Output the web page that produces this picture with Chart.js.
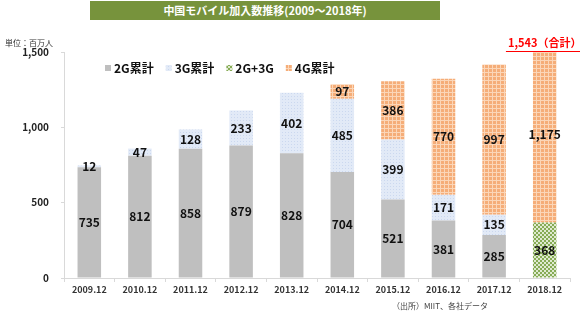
<!DOCTYPE html>
<html><head><meta charset="utf-8">
<script src="https://cdn.jsdelivr.net/npm/chart.js@4.4.1/dist/chart.umd.min.js"></script>
<style>
html,body{margin:0;padding:0;background:#fff;}
#wrap{position:relative;width:580px;height:325px;overflow:hidden;}
#title{position:absolute;left:90px;top:1px;width:350px;height:19px;background:#77933c;color:#fff;font:bold 11px "Noto Sans CJK JP";text-align:center;line-height:19px;}
#unit{position:absolute;left:5px;top:37px;font:8px "Noto Sans CJK JP";color:#333;}
#src{position:absolute;left:392px;top:300px;font:8px "Noto Sans CJK JP";color:#444;}
canvas{position:absolute;left:0;top:0;}
</style></head><body>
<div id="wrap">
<canvas id="c" width="580" height="325"></canvas>
<div id="title">中国モバイル加入数推移(2009～2018年)</div>
<div id="unit">単位：百万人</div>
<div id="src">（出所）MIIT、各社データ</div>
</div>
<script>
const categories = ['2009.12','2010.12','2011.12','2012.12','2013.12','2014.12','2015.12','2016.12','2017.12','2018.12'];
const seriesNames = ['2G累計','3G累計','2G+3G','4G累計'];
const values2G   = [735, 812, 858, 879, 828, 704, 521, 381, 285, null];
const values3G   = [12, 47, 128, 233, 402, 485, 399, 171, 135, null];
const values2G3G = [null, null, null, null, null, null, null, null, null, 368];
const values4G   = [null, null, null, null, null, 97, 386, 770, 997, 1175];
const yTickValues = [0, 500, 1000, 1500];
const totalSuffix = '（合計）';

const FONT = '"Noto Sans CJK JP", "Noto Sans", sans-serif';

function makePattern(w, h, draw) {
  const c = document.createElement('canvas');
  c.width = w; c.height = h;
  const x = c.getContext('2d');
  draw(x);
  return x.createPattern(c, 'repeat');
}
const fill2G = '#bfbfbf';
const fill3G = makePattern(3, 3, x => {
  x.fillStyle = '#e2eaf7'; x.fillRect(0, 0, 3, 3);
  x.fillStyle = '#cbd8ef'; x.fillRect(0, 0, 1, 1);
});
const fill2G3G = makePattern(4, 4, x => {
  x.fillStyle = '#dfead0'; x.fillRect(0, 0, 4, 4);
  x.fillStyle = '#86ab55'; x.fillRect(0, 0, 2, 2); x.fillRect(2, 2, 2, 2);
});
const fill4G = makePattern(4, 4, x => {
  x.fillStyle = '#f5ad78'; x.fillRect(0, 0, 4, 4);
  x.fillStyle = '#fbd6b8'; x.fillRect(0, 0, 4, 1); x.fillRect(0, 0, 1, 4);
});
const fills = [fill2G, fill3G, fill2G3G, fill4G];
const seriesData = [values2G, values3G, values2G3G, values4G];

const labelPlugin = {
  id: 'labels',
  afterDatasetsDraw(chart) {
    const ctx = chart.ctx;
    ctx.save();
    ctx.font = 'bold 12px ' + FONT;
    ctx.fillStyle = '#111';
    ctx.textAlign = 'center';
    ctx.textBaseline = 'middle';
    chart.data.datasets.forEach((ds, i) => {
      const meta = chart.getDatasetMeta(i);
      meta.data.forEach((el, j) => {
        const v = ds.data[j];
        if (v == null) return;
        const p = el.getProps(['x', 'y', 'base'], true);
        ctx.fillText(v.toLocaleString('en-US'), p.x, (p.y + p.base) / 2);
      });
    });
    // total label for last category
    const last = categories.length - 1;
    let total = 0;
    seriesData.forEach(a => { if (a[last] != null) total += a[last]; });
    const xs = chart.scales.x.getPixelForValue(last);
    const ty = chart.chartArea.top - 9;
    const txt = total.toLocaleString('en-US') + totalSuffix;
    ctx.font = 'bold 11px ' + FONT;
    ctx.fillStyle = '#ff0000';
    ctx.fillText(txt, xs, ty);
    const w = ctx.measureText(txt).width;
    ctx.strokeStyle = '#ff0000';
    ctx.lineWidth = 1;
    ctx.beginPath();
    ctx.moveTo(xs - w / 2 - 2, ty + 8.5);
    ctx.lineTo(xs + w / 2 + 2, ty + 8.5);
    ctx.stroke();
    // legend
    ctx.font = 'bold 12px ' + FONT;
    ctx.textAlign = 'left';
    let lx = 105;
    const ly = 68;
    chart.data.datasets.forEach((ds) => {
      ctx.fillStyle = ds.backgroundColor;
      ctx.fillRect(lx, ly - 3, 6, 6);
      ctx.fillStyle = '#111';
      ctx.fillText(ds.label, lx + 9, ly);
      lx += 9 + ctx.measureText(ds.label).width + 12;
    });
    ctx.restore();
  }
};

new Chart(document.getElementById('c'), {
  type: 'bar',
  data: {
    labels: categories,
    datasets: seriesNames.map((n, i) => ({
      label: n,
      data: seriesData[i],
      backgroundColor: fills[i],
      borderWidth: 0,
      barPercentage: 0.93,
      categoryPercentage: 0.5
    }))
  },
  options: {
    responsive: false,
    animation: false,
    layout: { padding: { left: 8, right: 10, top: 52, bottom: 0 } },
    plugins: { legend: { display: false }, tooltip: { enabled: false } },
    scales: {
      x: {
        stacked: true,
        grid: { drawOnChartArea: false, tickLength: 4, color: '#d9d9d9', offset: true },
        border: { color: '#d9d9d9' },
        ticks: { font: { family: FONT, size: 9, weight: 'bold' }, color: '#333', padding: 2 },
        afterFit(s) { s.height = 47; }
      },
      y: {
        stacked: true,
        min: 0, max: 1500,
        afterBuildTicks(s) { s.ticks = yTickValues.map(v => ({ value: v })); },
        grid: { drawOnChartArea: false, tickLength: 3, color: '#d9d9d9' },
        border: { color: '#d9d9d9' },
        ticks: { font: { family: FONT, size: 10, weight: 'bold' }, color: '#222', padding: 12,
          callback: v => v.toLocaleString('en-US') },
        afterFit(s) { s.width = 56; }
      }
    }
  },
  plugins: [labelPlugin]
});
</script>
</body></html>
